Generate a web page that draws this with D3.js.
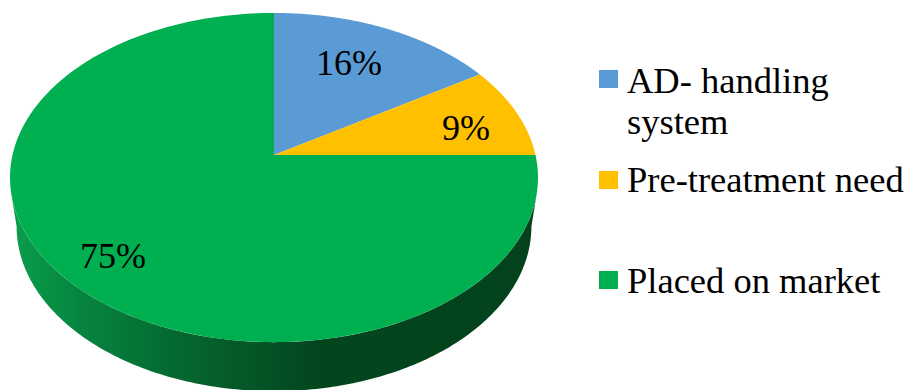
<!DOCTYPE html>
<html><head><meta charset="utf-8">
<script src="https://cdn.jsdelivr.net/npm/d3@7"></script>
<style>html,body{margin:0;padding:0;background:#fff;overflow:hidden}svg{display:block}text{font-family:"Liberation Serif",serif;fill:#000}</style>
</head><body><svg id="c" width="906" height="390"></svg>
<script>
const categories = ["AD- handling system", "Pre-treatment need", "Placed on market"];
const values = [16, 9, 75];
const valueLabels = ["16%", "9%", "75%"];
const colors = ["#5b9bd5", "#ffc000", "#00b050"];
const legendLines = [["AD- handling", "system"], ["Pre-treatment need"], ["Placed on market"]];

const svg = d3.select("#c");
const cx = 274, cy = 155, R = 261.5, S = 161.5, k = 0.137, depth = 49, Rlow = 0.975;
const project = (a, r = 1, dy = 0, sx = 1) => {
  const u = Math.sin(a) * r, v = Math.cos(a) * r, w = 1 + k * v;
  return [cx + R * sx * u / w, cy + dy - S * v / w];
};
const arcs = d3.pie().sort(null).value(d => d)(values);
const line = d3.line();
const sample = (a0, a1, f) => d3.range(0, 201).map(i => f(a0 + (a1 - a0) * i / 200));

// side wall
const defs = svg.append("defs");
const grad = defs.append("linearGradient").attr("id", "side")
  .attr("gradientUnits", "userSpaceOnUse").attr("x1", 10).attr("x2", 538).attr("y1", 0).attr("y2", 0);
[[0, "#0a9e4c"], [0.1, "#078a42"], [0.3, "#056a32"], [0.58, "#03461e"], [1, "#03421c"]]
  .forEach(s => grad.append("stop").attr("offset", s[0]).attr("stop-color", s[1]));
const rimTop = sample(Math.PI / 2 + Math.asin(0.228), 3 * Math.PI / 2 - Math.asin(0.228), a => project(a));
const rimLow = sample(3 * Math.PI / 2 - Math.asin(k), Math.PI / 2 + Math.asin(k), a => project(a, 1, depth, Rlow));
svg.append("path").attr("d", line(rimTop.concat(rimLow)) + "Z").attr("fill", "url(#side)");

// top face
svg.append("g").selectAll("path").data(arcs).join("path")
  .attr("d", d => line([[cx, cy]].concat(sample(d.startAngle, d.endAngle, a => project(a)))) + "Z")
  .attr("fill", (d, i) => colors[i]);

// value labels
const labelPos = [[316, 75], [442, 140], [80, 268]];
svg.append("g").selectAll("text").data(valueLabels).join("text")
  .attr("x", (d, i) => labelPos[i][0]).attr("y", (d, i) => labelPos[i][1])
  .attr("font-size", 36).text(d => d);

// legend
const legendY = [70, 171, 271], lineBase = [[93, 134], [192], [293]];
const lg = svg.append("g");
categories.forEach((c, i) => {
  lg.append("rect").attr("x", 599).attr("y", legendY[i]).attr("width", 19).attr("height", 18).attr("fill", colors[i]);
  legendLines[i].forEach((t, j) => lg.append("text").attr("x", 627).attr("y", lineBase[i][j]).attr("font-size", 36.5).text(t));
});
</script></body></html>
